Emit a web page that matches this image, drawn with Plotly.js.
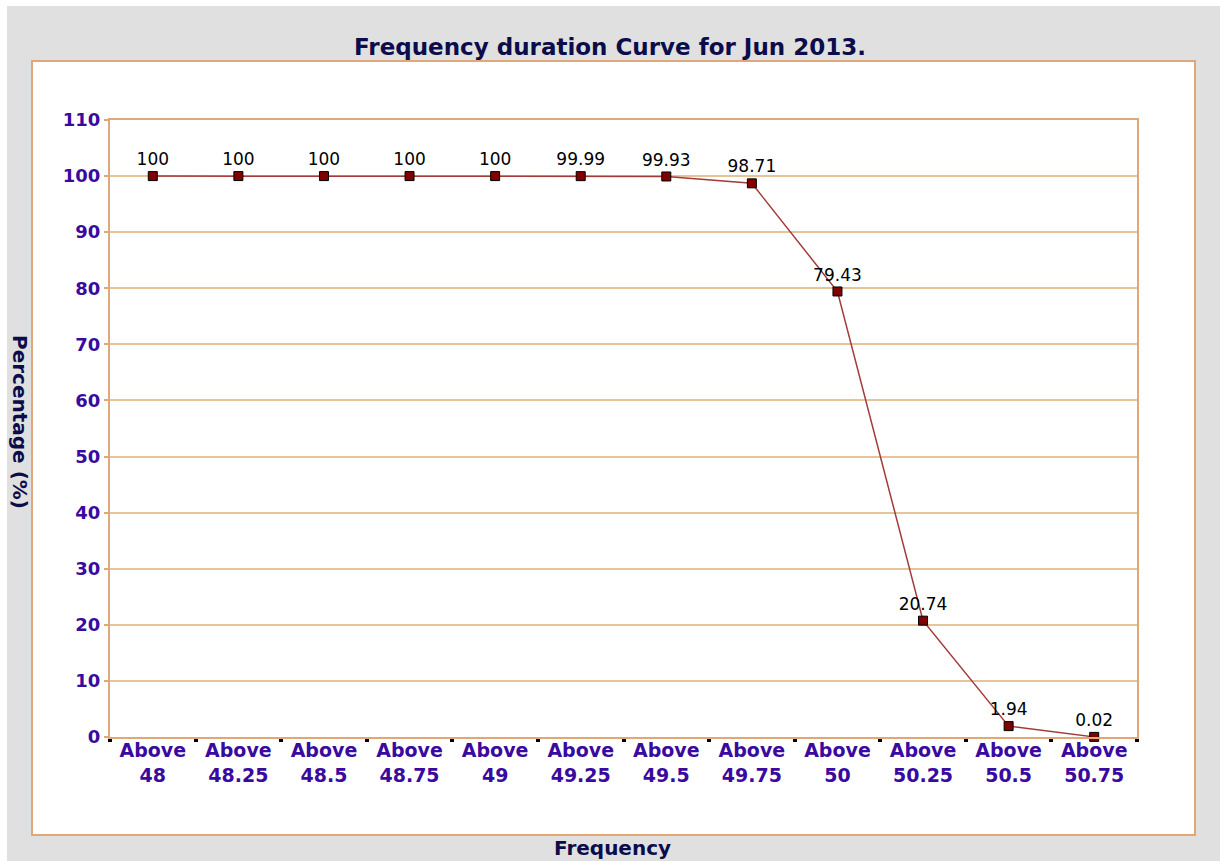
<!DOCTYPE html>
<html>
<head>
<meta charset="utf-8">
<script src="https://cdn.plot.ly/plotly-3.0.1.min.js"></script>
<style>
html,body{margin:0;padding:0;background:#ffffff;}
#chart{position:absolute;left:7px;top:6px;width:1213px;height:855px;}
</style>
</head>
<body>
<div id="chart"></div>
<script>
var categories = ["Above<br>48","Above<br>48.25","Above<br>48.5","Above<br>48.75","Above<br>49","Above<br>49.25","Above<br>49.5","Above<br>49.75","Above<br>50","Above<br>50.25","Above<br>50.5","Above<br>50.75"];
var percentages = [100,100,100,100,100,99.99,99.93,98.71,79.43,20.74,1.94,0.02];
var pointLabels = ["100","100","100","100","100","99.99","99.93","98.71","79.43","20.74","1.94","0.02"];
var yTicks = [0,10,20,30,40,50,60,70,80,90,100,110];

var labelColor = '#3a0aa0';
var navy = '#0c0c4a';
var orange = '#e0a878';

var trace = {
  x: categories,
  y: percentages,
  text: pointLabels,
  type: 'scatter',
  mode: 'lines+markers+text',
  textposition: 'top center',
  textfont: {family: 'DejaVu Sans', size: 17, color: '#000000'},
  line: {color: '#a33a3a', width: 1.5},
  marker: {symbol: 'square', size: 9, color: '#800000', line: {color: '#000000', width: 1}},
  cliponaxis: false,
  hoverinfo: 'none'
};

var layout = {
  paper_bgcolor: '#e0e0e0',
  plot_bgcolor: '#ffffff',
  margin: {l: 103, r: 83, t: 114, b: 124},
  showlegend: false,
  title: {
    text: 'Frequency duration Curve for Jun 2013.',
    font: {family: 'DejaVu Sans', size: 23, color: navy, weight: 'bold'},
    x: (610 - 7) / 1213, xanchor: 'center', xref: 'container',
    y: 1 - (47 - 6) / 855, yanchor: 'middle', yref: 'container'
  },
  xaxis: {
    type: 'category',
    range: [-0.5, 11.5],
    autorange: false,
    showgrid: false,
    zeroline: false,
    showline: true, mirror: true, linecolor: orange, linewidth: 2,
    ticks: 'outside', tickson: 'boundaries', ticklen: 3, tickwidth: 4, tickcolor: '#000000',
    ticklabelstandoff: -5,
    tickfont: {family: 'DejaVu Sans', size: 19, color: labelColor, weight: 'bold'},
    tickangle: 0,
    automargin: false
  },
  yaxis: {
    range: [0, 110],
    autorange: false,
    tickvals: yTicks,
    ticktext: yTicks.map(String),
    showgrid: true, gridcolor: '#e8c39a', gridwidth: 2,
    zeroline: false,
    showline: true, mirror: true, linecolor: orange, linewidth: 2,
    ticks: 'outside', ticklen: 4, tickcolor: orange, tickwidth: 2,
    tickfont: {family: 'DejaVu Sans', size: 18, color: labelColor, weight: 'bold'},
    automargin: false
  },
  shapes: [{
    type: 'rect', layer: 'below', xref: 'paper', yref: 'paper',
    x0: (32 - 110) / 1027, x1: (1195 - 110) / 1027,
    y0: (737 - 835) / 617, y1: (737 - 61) / 617,
    fillcolor: '#ffffff', line: {color: orange, width: 2}
  }],
  annotations: [
    {
      text: 'Percentage (%)', textangle: 90, showarrow: false,
      xref: 'paper', yref: 'paper',
      x: (20 - 110) / 1027, y: (737 - 422) / 617, xanchor: 'center', yanchor: 'middle',
      font: {family: 'DejaVu Sans', size: 20, color: navy, weight: 'bold'}
    },
    {
      text: 'Frequency', showarrow: false,
      xref: 'paper', yref: 'paper',
      x: (612 - 110) / 1027, y: (737 - 848) / 617, xanchor: 'center', yanchor: 'middle',
      font: {family: 'DejaVu Sans', size: 20, color: navy, weight: 'bold'}
    }
  ]
};

Plotly.newPlot('chart', [trace], layout, {staticPlot: true, displayModeBar: false});
</script>
</body>
</html>
